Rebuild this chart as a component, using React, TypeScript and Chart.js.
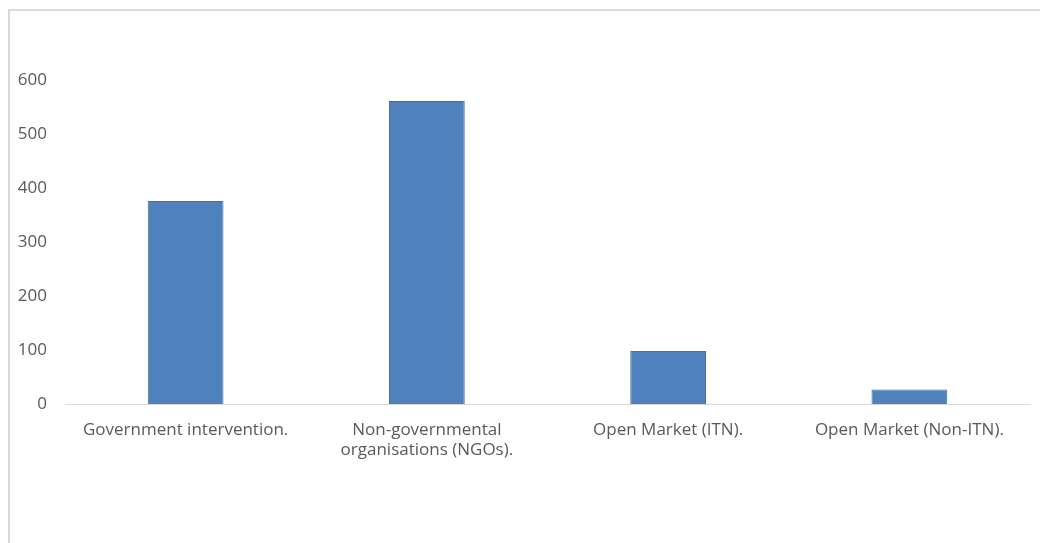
import React, { useEffect, useRef } from "react";
import { Chart, registerables } from "chart.js";

Chart.register(...registerables);

const categories: (string | string[])[] = [
  "Government intervention.",
  ["Non-governmental", "organisations (NGOs)."],
  "Open Market (ITN).",
  "Open Market (Non-ITN).",
];
const values: number[] = [376, 561, 98, 27];
const yMin = 0;
const yMax = 600;
const yStep = 100;

export default function App() {
  const ref = useRef<HTMLCanvasElement | null>(null);

  useEffect(() => {
    if (!ref.current) return;
    const font = { family: "'Open Sans', sans-serif", size: 17 };
    const chart = new Chart(ref.current, {
      type: "bar",
      data: {
        labels: categories,
        datasets: [
          {
            data: values,
            backgroundColor: "#4f81bd",
            borderColor: "#41719c",
            borderWidth: 1,
            categoryPercentage: 1,
            barPercentage: 0.314,
          },
        ],
      },
      options: {
        responsive: false,
        animation: false,
        layout: { padding: { top: 69, right: 10, bottom: 39, left: 0 } },
        plugins: { legend: { display: false }, tooltip: { enabled: false } },
        scales: {
          x: {
            grid: { display: false, drawTicks: false, drawOnChartArea: false },
            border: { display: true, color: "#d9d9d9", width: 1 },
            ticks: {
              color: "#595959",
              font,
              padding: 16,
              maxRotation: 0,
              autoSkip: false,
            },
            afterFit: (s: any) => {
              s.height = 100;
            },
          },
          y: {
            min: yMin,
            max: yMax,
            grid: { display: false, drawTicks: false, drawOnChartArea: false },
            border: { display: false },
            ticks: { stepSize: yStep, color: "#595959", font, padding: 18 },
            afterFit: (s: any) => {
              s.width = 55;
            },
          },
        },
      },
    });
    return () => chart.destroy();
  }, []);

  return (
    <div
      style={{
        position: "fixed",
        left: 0,
        top: 0,
        width: 1040,
        height: 543,
        overflow: "hidden",
        background: "#ffffff",
      }}
    >
      <div
        style={{
          position: "absolute",
          left: 8,
          top: 9,
          width: 2,
          height: 540,
          background: "#d9d9d9",
        }}
      />
      <div
        style={{
          position: "absolute",
          left: 8,
          top: 9,
          width: 1032,
          height: 2,
          background: "#d9d9d9",
        }}
      />
      <canvas
        ref={ref}
        width={1030}
        height={532}
        style={{ display: "block", position: "absolute", left: 10, top: 11 }}
      />
      <div
        style={{
          position: "absolute",
          left: 1031,
          top: 11,
          width: 9,
          height: 388,
          background: "#ffffff",
        }}
      />
    </div>
  );
}
